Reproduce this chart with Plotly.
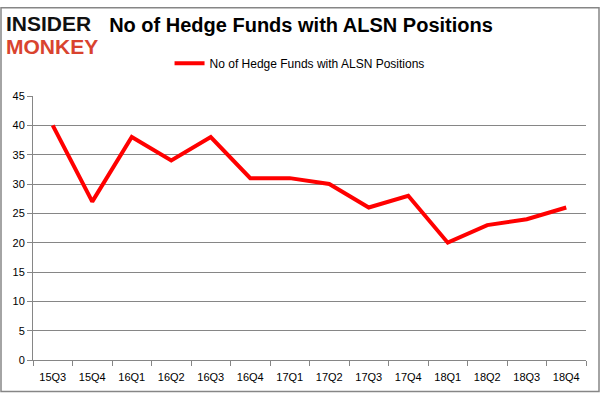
import plotly.graph_objects as go

quarters = ["15Q3", "15Q4", "16Q1", "16Q2", "16Q3", "16Q4", "17Q1", "17Q2",
            "17Q3", "17Q4", "18Q1", "18Q2", "18Q3", "18Q4"]
hedge_funds = [40, 27, 38, 34, 38, 31, 31, 30, 26, 28, 20, 23, 24, 26]
y_ticks = [0, 5, 10, 15, 20, 25, 30, 35, 40, 45]
series_name = "No of Hedge Funds with ALSN Positions"
title_text = "No of Hedge Funds with ALSN Positions"

W, H = 601, 396
L, R, T, B = 33, 15, 91, 36
PW, PH = W - L - R, H - T - B

fig = go.Figure()
fig.add_trace(go.Scatter(
    x=quarters, y=hedge_funds, mode="lines", name=series_name,
    line=dict(color="#ff0000", width=4),
))

fig.update_layout(
    width=W, height=H,
    margin=dict(l=L, r=R, t=T, b=B),
    paper_bgcolor="white", plot_bgcolor="white",
    showlegend=True,
    legend=dict(orientation="h", x=0.482, xanchor="center", y=0.84, yref="container",
                yanchor="middle", font=dict(family="Liberation Sans", size=12, color="#000000")),
    title=dict(text="<b>" + title_text + "</b>", x=301 / W, xanchor="center",
               y=1 - 25 / H, yref="container", yanchor="middle",
               font=dict(family="Liberation Sans", size=20, color="#000000")),
    xaxis=dict(type="category", showgrid=False, showline=True, linecolor="#868686",
               linewidth=1, ticks="outside", tickson="boundaries", ticklen=5,
               tickcolor="#868686", ticklabelstandoff=7,
               tickfont=dict(family="Liberation Sans", size=11, color="#000000"),
               range=[-0.5, len(quarters) - 0.5]),
    yaxis=dict(range=[0, 45], tickvals=y_ticks, showgrid=True, gridcolor="#868686",
               gridwidth=1, showline=True, linecolor="#868686", ticks="outside",
               ticklen=5, tickcolor="#868686", zeroline=False,
               tickfont=dict(family="Liberation Sans", size=11, color="#000000")),
)

# outer border
fig.add_shape(type="rect", xref="paper", yref="paper",
              x0=(1 - L) / PW, x1=(599 - L) / PW,
              y0=(H - B - 392) / PH, y1=(H - B - 1) / PH,
              line=dict(color="#868686", width=1.5))

# logo
fig.add_annotation(text="<b>INSIDER</b>", xref="paper", yref="paper",
                   x=(4 - L) / PW, y=(H - B - 17) / PH, xanchor="left", yanchor="middle",
                   showarrow=False, font=dict(family="Liberation Sans", size=21, color="#111111"))
fig.add_annotation(text="<b>MONKEY</b>", xref="paper", yref="paper",
                   x=(4 - L) / PW, y=(H - B - 41) / PH, xanchor="left", yanchor="middle",
                   showarrow=False, font=dict(family="Liberation Sans", size=21, color="#d9432f"))

fig.write_html("out.html", config={"displayModeBar": False},
               post_script="document.body.style.margin='0';")
